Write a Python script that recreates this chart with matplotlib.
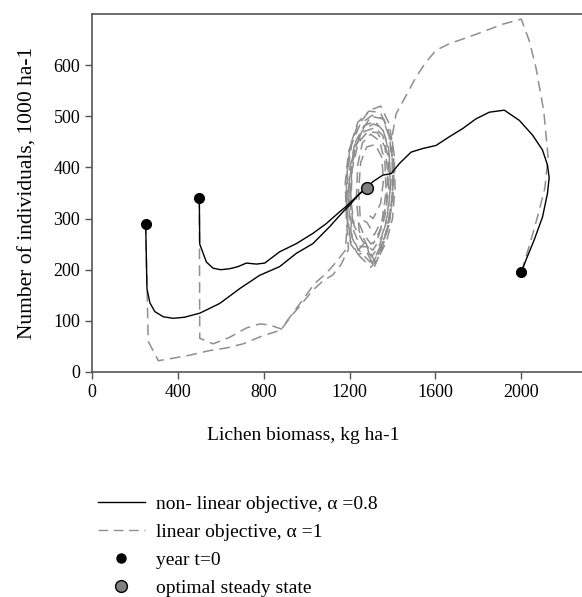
import matplotlib
matplotlib.use("Agg")
import matplotlib.pyplot as plt
from matplotlib.lines import Line2D

plt.rcParams['font.family'] = ['Liberation Serif', 'DejaVu Serif']

# ---------------- data ----------------
# non-linear objective (alpha = 0.8) trajectories
nl1_x = [250, 256, 270, 293, 332, 378, 430, 502, 595, 688, 781, 874, 952, 1029, 1107, 1169, 1200, 1246, 1280]
nl1_y = [290, 163, 135, 118, 108, 105, 107, 115, 134, 163, 189, 206, 232, 251, 284, 313, 326, 349, 360]

nl2_x = [500, 502, 533, 564, 600, 642, 680, 719, 766, 805, 874, 952, 1029, 1091, 1153, 1185, 1230, 1280]
nl2_y = [340, 250, 215, 203, 200, 202, 206, 213, 211, 213, 235, 251, 271, 290, 313, 324, 342, 360]

nl3_x = [2000, 2022, 2060, 2099, 2122, 2130, 2122, 2099, 2053, 1991, 1921, 1851, 1789, 1727, 1665, 1603,
         1541, 1487, 1433, 1394, 1355, 1308, 1280]
nl3_y = [195, 219, 258, 303, 349, 380, 405, 434, 463, 492, 512, 508, 495, 476, 460, 443,
         437, 430, 408, 388, 385, 372, 360]

# linear objective (alpha = 1) trajectories, incl. oscillation around steady state
lin1_x = [250, 262, 309, 378, 456, 549, 626, 704, 790, 880, 925, 967, 1029, 1076, 1122, 1160, 1195,
          1185, 1180, 1195, 1235, 1295, 1345, 1385, 1408, 1412, 1400, 1372, 1330, 1300, 1250, 1205,
          1188, 1190, 1210, 1250, 1305, 1358, 1392, 1405, 1395, 1365, 1320, 1295, 1240, 1208,
          1196, 1200, 1222, 1260, 1310, 1352, 1382, 1392, 1380, 1350, 1308, 1262, 1222,
          1205, 1210, 1232, 1268, 1318, 1355, 1380, 1382, 1365, 1335, 1300, 1265, 1235]
lin1_y = [290, 60, 22, 27, 33, 42, 47, 55, 70, 82, 108, 128, 160, 178, 190, 210, 240,
          300, 370, 430, 480, 512, 520, 485, 425, 360, 300, 255, 220, 205, 225, 250,
          320, 390, 445, 485, 502, 495, 455, 385, 322, 265, 225, 215, 240, 268,
          330, 395, 442, 472, 485, 478, 438, 375, 312, 265, 238, 255, 285,
          340, 400, 445, 470, 478, 462, 420, 360, 305, 265, 250, 270, 300]

lin2_x = [500, 502, 564, 642, 719, 781, 828, 882, 930, 980, 1035, 1091, 1138, 1180,
          1190, 1196, 1215, 1255, 1300, 1355, 1385, 1402, 1398, 1375, 1338, 1305, 1275, 1240, 1212,
          1202, 1206, 1230, 1268, 1318, 1360, 1385, 1390, 1372, 1340, 1302, 1270, 1245,
          1232, 1238, 1260, 1298, 1340, 1365, 1370, 1352, 1315, 1282, 1250,
          1242, 1252, 1280, 1320, 1350, 1358, 1345, 1310, 1280]
lin2_y = [340, 66, 55, 68, 86, 94, 92, 84, 112, 140, 172, 193, 215, 238,
          290, 360, 420, 470, 500, 495, 460, 405, 338, 280, 235, 212, 255, 238, 262,
          330, 400, 452, 482, 490, 470, 425, 358, 295, 248, 225, 258, 275,
          340, 405, 448, 465, 452, 410, 352, 298, 268, 292, 300,
          355, 410, 440, 445, 420, 375, 330, 300, 310]

lin3_x = [2000, 2040, 2080, 2110, 2125, 2105, 2068, 2037, 2000, 1913, 1820, 1727, 1665, 1603, 1556,
          1510, 1464, 1417, 1398, 1408, 1402, 1382, 1350, 1315, 1280, 1240, 1205, 1185, 1186,
          1202, 1238, 1290, 1342, 1378, 1398, 1400, 1386, 1355, 1318, 1285, 1250, 1220, 1206,
          1212, 1240, 1285, 1330, 1365, 1378, 1372, 1345, 1310]
lin3_y = [195, 250, 310, 360, 420, 510, 596, 648, 690, 680, 665, 651, 642, 629, 606,
          577, 541, 505, 460, 400, 340, 285, 240, 205, 235, 230, 255, 310, 380,
          440, 488, 510, 508, 478, 422, 355, 295, 250, 215, 245, 245, 275, 330,
          395, 448, 470, 468, 440, 390, 330, 280, 250]

start_x = [250, 500, 2000]
start_y = [290, 340, 195]

steady_x = [1280]
steady_y = [360]

xticks = [0, 400, 800, 1200, 1600, 2000]
yticks = [0, 100, 200, 300, 400, 500, 600]

# ---------------- figure ----------------
fig = plt.figure(figsize=(5.82, 5.97), dpi=100)
ax_h = (372 - 13.5) / 597
ax = fig.add_axes([92 / 582, 1 - 372 / 597, 1 - 92 / 582, ax_h])

dash = (0, (7, 4))
lin_color = '#8f8f8f'
for xs, ys in [(lin1_x, lin1_y), (lin2_x, lin2_y), (lin3_x, lin3_y)]:
    ax.plot(xs, ys, color=lin_color, lw=1.1, linestyle=dash, zorder=2)
for xs, ys in [(nl1_x, nl1_y), (nl2_x, nl2_y), (nl3_x, nl3_y)]:
    ax.plot(xs, ys, color='black', lw=1.0, zorder=3)

ax.plot(start_x, start_y, 'o', color='black', ms=7, zorder=4)
ax.plot(steady_x, steady_y, 'o', mfc='#808080', mec='black', mew=1.0, ms=8.5, zorder=5)

ax.set_xlim(0, 2283)
ax.set_ylim(0, 701)
ax.set_xticks(xticks)
ax.set_yticks(yticks)
ax.tick_params(direction='out', length=5, width=1, colors='#555555', labelcolor='black', labelsize=13)
for side in ['left', 'bottom', 'top']:
    ax.spines[side].set_color('#555555')
    ax.spines[side].set_linewidth(1.2)
ax.spines['right'].set_visible(False)

ax.set_xlabel('Lichen biomass, kg ha-1', fontsize=14)
ax.xaxis.set_label_coords((303.5 - 92) / (582 - 92), -(427 - 372) / (372 - 13.5))
ax.set_ylabel('Number of individuals, 1000 ha-1', fontsize=15.5)
ax.yaxis.set_label_coords(-(92 - 38) / (582 - 92), 0.5)

handles = [
    Line2D([], [], color='black', lw=1.0),
    Line2D([], [], color=lin_color, lw=1.0, linestyle=dash),
    Line2D([], [], color='black', marker='o', ms=6.5, linestyle='none'),
    Line2D([], [], mfc='#808080', mec='black', marker='o', ms=8.5, linestyle='none'),
]
labels = ['non- linear objective, α =0.8', 'linear objective, α =1', 'year t=0', 'optimal steady state']
fig.legend(handles, labels, loc='upper left', bbox_to_anchor=(98 / 582, 1 - 495 / 597),
           frameon=False, fontsize=14, handlelength=2.4, handletextpad=0.6, labelspacing=0.54,
           borderaxespad=0, borderpad=0)

fig.savefig('out.png', dpi=100)
